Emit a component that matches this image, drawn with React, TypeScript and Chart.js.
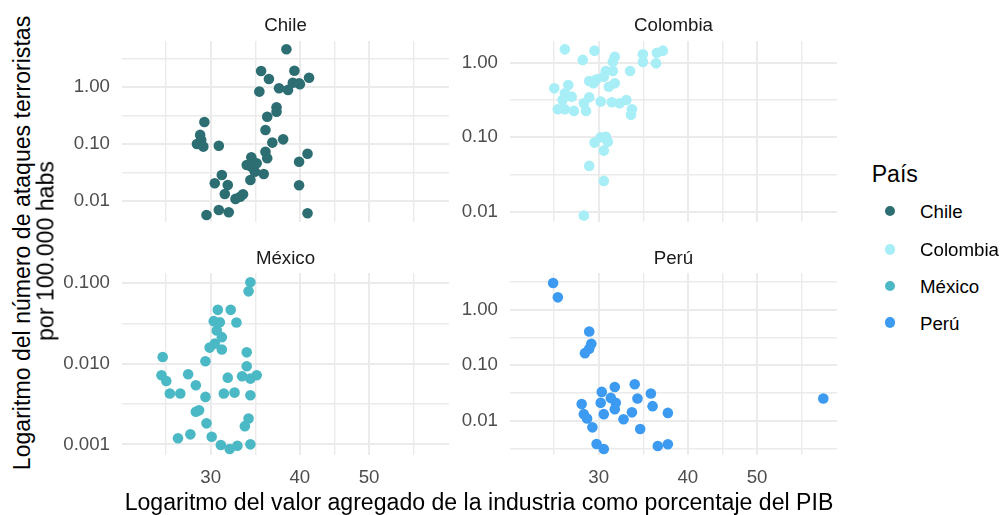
import React, { useEffect, useRef } from "react";
import { Chart, registerables } from "chart.js";
Chart.register(...registerables);

const FONT = "'Liberation Sans', Arial, sans-serif";
const SMALL = 18.7;
const BIG = 23.1;

// ---- shared x axis (log scale) ----
const xLimits = [22.54, 64.7];
const xMajor = [30, 40, 50];
const xMajorLabels = ["30", "40", "50"];
const xMinor = [25.98, 34.64, 44.72, 57.74];

// ---- Chile ----
const chileX = [38.3, 35.3, 39.3, 36.2, 41.2, 39.9, 37.4, 38.5, 39.1, 40.0, 35.1, 37.1, 37.1, 36.0, 29.4, 35.8, 29.0, 29.1, 28.7, 29.3, 30.8, 37.9, 36.6, 35.8, 36.0, 41.0, 39.9, 34.2, 33.7, 34.2, 34.6, 35.6, 34.1, 31.1, 30.4, 31.7, 31.4, 32.5, 33.3, 39.9, 29.6, 30.8, 31.8, 41.0, 34.8, 33.0];
const chileY = [4.64, 1.93, 1.95, 1.40, 1.47, 1.18, 0.96, 0.90, 1.20, 1.13, 0.84, 0.446, 0.373, 0.305, 0.246, 0.178, 0.146, 0.119, 0.101, 0.091, 0.094, 0.122, 0.107, 0.074, 0.0568, 0.0684, 0.0495, 0.0591, 0.0434, 0.0405, 0.0331, 0.0301, 0.0236, 0.0289, 0.0207, 0.0193, 0.0134, 0.011, 0.0133, 0.0191, 0.00575, 0.00704, 0.00641, 0.00615, 0.0464, 0.0120];

// ---- Colombia ----
const colombiaX = [26.9, 29.6, 28.5, 31.6, 31.4, 34.6, 34.6, 36.2, 36.9, 36.1, 33.2, 31.4, 30.7, 30.5, 29.8, 29.1, 29.5, 31.6, 31.0, 27.2, 26.0, 26.9, 27.5, 29.1, 28.6, 30.2, 31.3, 32.1, 32.8, 26.3, 26.9, 27.7, 28.8, 33.4, 33.3, 30.7, 30.2, 29.6, 30.9, 30.5, 29.1, 30.5, 28.6, 26.7];
const colombiaY = [1.51, 1.45, 1.09, 1.20, 1.03, 1.30, 1.02, 1.36, 1.45, 0.98, 0.774, 0.774, 0.774, 0.65, 0.60, 0.569, 0.53, 0.53, 0.477, 0.503, 0.454, 0.389, 0.351, 0.344, 0.286, 0.301, 0.295, 0.286, 0.317, 0.238, 0.238, 0.226, 0.226, 0.238, 0.20, 0.102, 0.100, 0.085, 0.0876, 0.0664, 0.0414, 0.0261, 0.00895, 0.317];

// ---- México ----
const mexicoX = [34.1, 33.9, 30.7, 32.0, 32.6, 30.3, 30.9, 30.6, 31.1, 30.4, 29.9, 31.1, 25.7, 29.5, 33.7, 33.7, 25.6, 26.0, 27.9, 28.6, 31.7, 33.2, 34.1, 34.8, 26.3, 27.2, 29.5, 31.3, 32.4, 34.1, 28.6, 28.9, 29.6, 33.9, 33.5, 27.0, 28.1, 30.1, 31.0, 31.9, 32.7, 34.1];
const mexicoY = [0.1017, 0.0787, 0.0464, 0.0464, 0.0323, 0.0336, 0.0326, 0.0258, 0.0213, 0.0177, 0.0158, 0.0150, 0.0121, 0.0107, 0.0138, 0.00927, 0.00718, 0.00610, 0.00738, 0.00540, 0.00671, 0.00697, 0.00653, 0.00718, 0.00427, 0.00427, 0.00387, 0.00427, 0.00438, 0.00406, 0.00253, 0.00265, 0.00182, 0.00209, 0.00168, 0.00119, 0.00133, 0.00124, 0.00098, 0.000874, 0.00096, 0.001];

// ---- Perú ----
const peruX = [25.9, 26.3, 29.1, 29.3, 29.1, 28.7, 61.9, 30.3, 31.6, 33.7, 35.5, 34.0, 31.2, 31.7, 30.2, 28.4, 31.6, 35.7, 30.5, 33.4, 32.5, 37.5, 28.6, 28.9, 29.4, 34.3, 29.8, 30.5, 36.3, 37.5];
const peruY = [3.05, 1.68, 0.408, 0.245, 0.20, 0.166, 0.0252, 0.0332, 0.0408, 0.0456, 0.031, 0.0252, 0.0259, 0.0211, 0.0211, 0.020, 0.0162, 0.0184, 0.0132, 0.0142, 0.0107, 0.0139, 0.0132, 0.011, 0.00762, 0.0071, 0.00382, 0.0031, 0.00352, 0.00377];

// ---- y axes ----
const yMajorA = [0.01, 0.1, 1];
const yLabelsA = ["0.01", "0.10", "1.00"];
const yMajorMx = [0.001, 0.01, 0.1];
const yLabelsMx = ["0.001", "0.010", "0.100"];
const yMinorChile = [0.0316, 0.316, 3.162];
const yMinorColombia = [0.0316, 0.316];
const yMinorMexico = [0.00316, 0.0316];
const yMinorPeru = [0.00316, 0.0316, 0.316, 3.162];
const yLimChile = [0.00433, 6.49];
const yLimColombia = [0.00734, 1.953];
const yLimMexico = [0.000738, 0.1328];
const yLimPeru = [0.00242, 4.62];

const countries = ["Chile", "Colombia", "México", "Perú"];
const colors = ["#2D6E72", "#A7EEF7", "#4BB9C5", "#3C9BF0"];

const same = (a: number, b: number) => Math.abs(Math.log10(a) - Math.log10(b)) < 1e-4;

type PanelCfg = {
  name: string; x: number[]; y: number[]; color: string;
  yMajor: number[]; yLabels: string[]; yMinor: number[]; yLim: number[];
  L: number; T: number; W: number; H: number; bottom: boolean;
};

const PW = 327;
const panels: PanelCfg[] = [
  { name: countries[0], x: chileX, y: chileY, color: colors[0], yMajor: yMajorA, yLabels: yLabelsA, yMinor: yMinorChile, yLim: yLimChile, L: 122, T: 41, W: PW, H: 181, bottom: false },
  { name: countries[1], x: colombiaX, y: colombiaY, color: colors[1], yMajor: yMajorA, yLabels: yLabelsA, yMinor: yMinorColombia, yLim: yLimColombia, L: 510, T: 41, W: PW, H: 181, bottom: false },
  { name: countries[2], x: mexicoX, y: mexicoY, color: colors[2], yMajor: yMajorMx, yLabels: yLabelsMx, yMinor: yMinorMexico, yLim: yLimMexico, L: 122, T: 273, W: PW, H: 182, bottom: true },
  { name: countries[3], x: peruX, y: peruY, color: colors[3], yMajor: yMajorA, yLabels: yLabelsA, yMinor: yMinorPeru, yLim: yLimPeru, L: 510, T: 273, W: PW, H: 182, bottom: true },
];

const YW = 80;
const PAD = 30;
const XH = 40;

function Panel({ cfg }: { cfg: PanelCfg }) {
  const ref = useRef<HTMLCanvasElement>(null);
  const cw = YW + cfg.W + PAD;
  const ch = PAD + cfg.H + (cfg.bottom ? XH : PAD);
  const left = cfg.L - YW;
  const top = cfg.T - PAD;

  useEffect(() => {
    const xTicks = [...xMajor, ...xMinor].sort((a, b) => a - b);
    const yTicks = [...cfg.yMajor, ...cfg.yMinor].sort((a, b) => a - b);
    const chart = new Chart(ref.current!, {
      type: "scatter",
      data: {
        datasets: [
          {
            label: cfg.name,
            data: cfg.x.map((v, i) => ({ x: v, y: cfg.y[i] })),
            backgroundColor: cfg.color,
            borderWidth: 0,
            pointRadius: 5.3,
            pointHoverRadius: 5.3,
            clip: false as any,
          },
        ],
      },
      options: {
        animation: false,
        responsive: false,
        events: [],
        layout: { padding: { left: 0, top: PAD, right: PAD, bottom: cfg.bottom ? 0 : PAD } },
        plugins: { legend: { display: false }, tooltip: { enabled: false } },
        scales: {
          x: {
            type: "logarithmic",
            min: xLimits[0],
            max: xLimits[1],
            bounds: "data",
            afterBuildTicks: (s: any) => { s.ticks = xTicks.map((v) => ({ value: v })); },
            afterFit: (s: any) => { s.height = cfg.bottom ? XH : 0; },
            ticks: {
              display: cfg.bottom,
              autoSkip: false,
              maxRotation: 0,
              minRotation: 0,
              padding: 12,
              color: "#4D4D4D",
              font: { family: FONT, size: SMALL },
              callback: (v: any) => {
                const i = xMajor.findIndex((m) => same(m, Number(v)));
                return i >= 0 ? xMajorLabels[i] : "";
              },
            },
            grid: {
              color: "#EBEBEB",
              drawTicks: false,
              lineWidth: (c: any) => (c.tick && xMajor.some((m) => same(m, c.tick.value)) ? 2 : 1.4),
            },
            border: { display: false },
          },
          y: {
            type: "logarithmic",
            min: cfg.yLim[0],
            max: cfg.yLim[1],
            bounds: "data",
            afterBuildTicks: (s: any) => { s.ticks = yTicks.map((v) => ({ value: v })); },
            afterFit: (s: any) => { s.width = YW; },
            ticks: {
              autoSkip: false,
              padding: 12,
              color: "#4D4D4D",
              font: { family: FONT, size: SMALL },
              callback: (v: any) => {
                const i = cfg.yMajor.findIndex((m) => same(m, Number(v)));
                return i >= 0 ? cfg.yLabels[i] : "";
              },
            },
            grid: {
              color: "#EBEBEB",
              drawTicks: false,
              lineWidth: (c: any) => (c.tick && cfg.yMajor.some((m) => same(m, c.tick.value)) ? 2 : 1.4),
            },
            border: { display: false },
          },
        },
      } as any,
    });
    return () => chart.destroy();
  }, []);

  return (
    <canvas
      ref={ref}
      width={cw}
      height={ch}
      style={{ position: "absolute", left, top, width: cw, height: ch }}
    />
  );
}

const txt = (x: number, y: number, s: string, size: number, color: string, extra: React.CSSProperties = {}) => (
  <div
    style={{
      position: "absolute",
      left: x,
      top: y,
      transform: "translate(-50%, -50%)",
      whiteSpace: "nowrap",
      fontFamily: FONT,
      fontSize: size,
      lineHeight: 1,
      color,
      ...extra,
    }}
  >
    {s}
  </div>
);

const legendY = [211, 249.3, 286, 322.7];

export default function App() {
  return (
    <div
      style={{
        position: "absolute",
        left: 0,
        top: 0,
        width: 1008,
        height: 515,
        background: "#FFFFFF",
        overflow: "hidden",
        fontFamily: FONT,
      }}
    >
      {panels.map((p) => (
        <Panel key={p.name} cfg={p} />
      ))}
      {panels.map((p) => (
        <React.Fragment key={"s" + p.name}>
          {txt(p.L + p.W / 2, p.bottom ? 257.5 : 24.5, p.name, SMALL, "#1A1A1A")}
        </React.Fragment>
      ))}
      {txt(479, 503, "Logaritmo del valor agregado de la industria como porcentaje del PIB", BIG, "#000000")}
      {txt(22.8, 243.3, "Logaritmo del número de ataques terroristas", BIG, "#000000", { transform: "translate(-50%, -50%) rotate(-90deg)" })}
      {txt(45.5, 250.8, "por 100.000 habs", BIG, "#000000", { transform: "translate(-50%, -50%) rotate(-90deg)" })}
      <div style={{ position: "absolute", left: 871.7, top: 175, transform: "translateY(-50%)", fontSize: BIG, lineHeight: 1, color: "#000", whiteSpace: "nowrap" }}>País</div>
      {countries.map((c, i) => {
        const y = legendY[i];
        return (
          <React.Fragment key={"l" + c}>
            <div style={{ position: "absolute", left: 890 - 5.3, top: y - 5.3, width: 10.6, height: 10.6, borderRadius: "50%", background: colors[i] }} />
            <div style={{ position: "absolute", left: 920, top: y + 1, transform: "translateY(-50%)", fontSize: SMALL, lineHeight: 1, color: "#000", whiteSpace: "nowrap" }}>{c}</div>
          </React.Fragment>
        );
      })}
    </div>
  );
}
